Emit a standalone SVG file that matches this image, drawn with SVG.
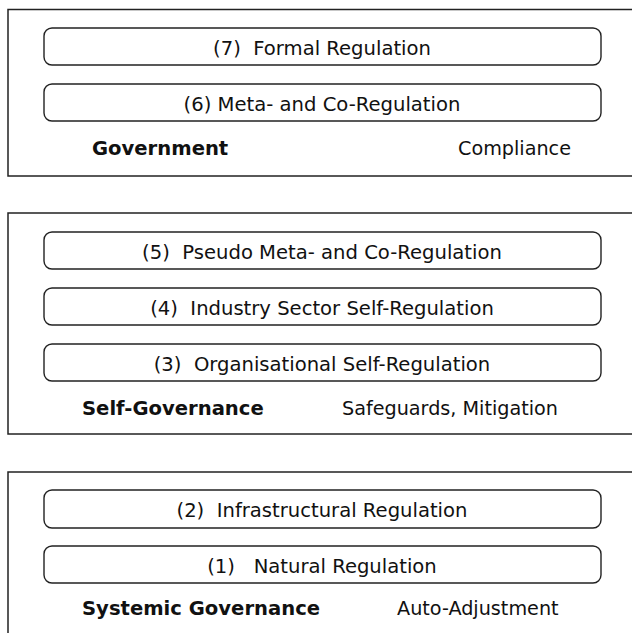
<svg xmlns="http://www.w3.org/2000/svg" width="632" height="633" viewBox="0 0 632 633">
  <style>
    .outer { fill: #ffffff; stroke: #222222; stroke-width: 1.5; }
    .layer rect { fill: #ffffff; stroke: #222222; stroke-width: 1.4; }
    text { font-family: "DejaVu Sans", Verdana, sans-serif; font-size: 19.6px; fill: #111111; white-space: pre; }
    .layer text { text-anchor: middle; }
    .bold { font-weight: bold; }
    .note { font-size: 19.2px; }
  </style>
  <rect width="632" height="633" fill="#ffffff"/>

  <!-- Government tier -->
  <g id="tier-government">
    <rect class="outer" x="8" y="9.5" width="640" height="166.5"/>
    <g id="layer-7" class="layer">
      <rect x="44" y="28" width="557" height="37" rx="8"/>
      <text x="322" y="55" xml:space="preserve">(7)  Formal Regulation</text>
    </g>
    <g id="layer-6" class="layer">
      <rect x="44" y="84" width="557" height="37" rx="8"/>
      <text x="322" y="111" xml:space="preserve">(6) Meta- and Co-Regulation</text>
    </g>
    <text class="bold" x="92" y="155">Government</text>
    <text class="note" x="458" y="155">Compliance</text>
  </g>

  <!-- Self-governance tier -->
  <g id="tier-self-governance">
    <rect class="outer" x="8" y="213" width="640" height="221"/>
    <g id="layer-5" class="layer">
      <rect x="44" y="232" width="557" height="37" rx="8"/>
      <text x="322" y="259" xml:space="preserve">(5)  Pseudo Meta- and Co-Regulation</text>
    </g>
    <g id="layer-4" class="layer">
      <rect x="44" y="288" width="557" height="37" rx="8"/>
      <text x="322" y="315" xml:space="preserve">(4)  Industry Sector Self-Regulation</text>
    </g>
    <g id="layer-3" class="layer">
      <rect x="44" y="344" width="557" height="37" rx="8"/>
      <text x="322" y="371" xml:space="preserve">(3)  Organisational Self-Regulation</text>
    </g>
    <text class="bold" x="82" y="415">Self-Governance</text>
    <text class="note" x="342" y="415">Safeguards, Mitigation</text>
  </g>

  <!-- Systemic governance tier -->
  <g id="tier-systemic">
    <rect class="outer" x="8" y="472" width="640" height="200"/>
    <g id="layer-2" class="layer">
      <rect x="44" y="490" width="557" height="38" rx="8"/>
      <text x="322" y="517" xml:space="preserve">(2)  Infrastructural Regulation</text>
    </g>
    <g id="layer-1" class="layer">
      <rect x="44" y="546" width="557" height="37" rx="8"/>
      <text x="322" y="573" xml:space="preserve">(1)   Natural Regulation</text>
    </g>
    <text class="bold" x="82" y="615">Systemic Governance</text>
    <text class="note" x="397" y="615">Auto-Adjustment</text>
  </g>
</svg>
